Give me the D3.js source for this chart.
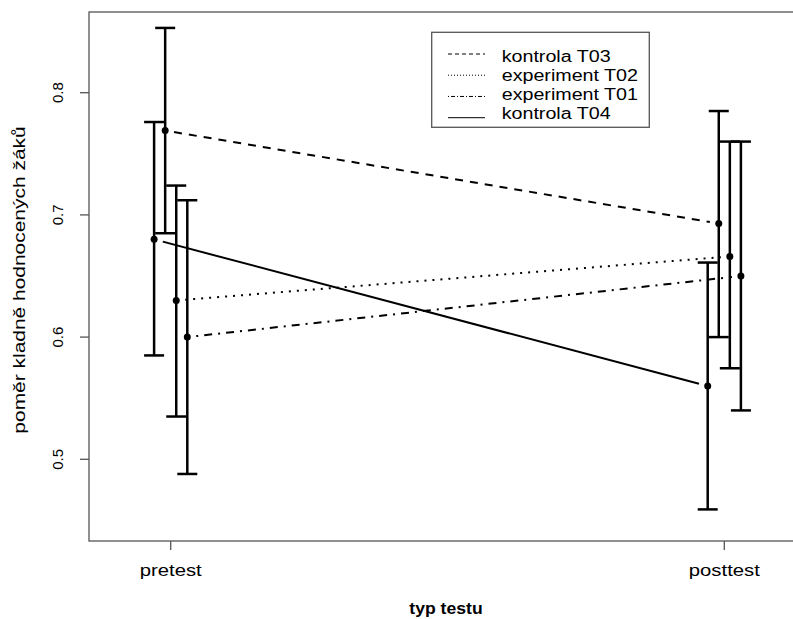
<!DOCTYPE html>
<html>
<head>
<meta charset="utf-8">
<script src="https://cdn.jsdelivr.net/npm/d3@7"></script>
<style>
  body { margin: 0; background: #fff; }
  svg { display: block; font-family: "Liberation Sans", Arial, sans-serif; }
</style>
</head>
<body>
<div id="chart"></div>
<script>
// ---- data ----
const groups = ["pretest", "posttest"];
// order of the bars from left to right inside each group
const series = ["kontrola T04", "kontrola T03", "experiment T02", "experiment T01"];
const legendOrder = ["kontrola T03", "experiment T02", "experiment T01", "kontrola T04"];

const meanPre  = [0.680, 0.769, 0.630, 0.600];
const meanPost = [0.560, 0.693, 0.666, 0.650];
const lowPre   = [0.585, 0.685, 0.535, 0.488];
const highPre  = [0.776, 0.853, 0.724, 0.712];
const lowPost  = [0.459, 0.600, 0.5745, 0.540];
const highPost = [0.661, 0.785, 0.760, 0.760];

const yTicks = [0.5, 0.6, 0.7, 0.8];
const dashes = {
    "kontrola T03": "8,7",
    "experiment T02": "2,6",
    "experiment T01": "2,6,8,6",
    "kontrola T04": null
};
const legendDashes = {
    "kontrola T03": "4,3",
    "experiment T02": "1,2",
    "experiment T01": "1,2,4,2",
    "kontrola T04": null
};

// ---- layout ----
const W = 793, H = 619;
const box = { left: 89, top: 12, bottom: 541, right: 800 };
const SX = 1.23; // text in the picture is stretched sideways

const svg = d3.select("#chart").append("svg")
    .attr("width", W).attr("height", H);

const x = d3.scalePoint().domain(groups).range([170.7, 724.3]);
const dx = d3.scalePoint().domain(series).range([-16.6, 16.6]);
const y = d3.scaleLinear().domain([0.5, 0.8]).range([459.3, 92.7]);

const rows = series.map((s, i) => ({
    name: s,
    pts: [
        { g: "pretest", m: meanPre[i], lo: lowPre[i], hi: highPre[i] },
        { g: "posttest", m: meanPost[i], lo: lowPost[i], hi: highPost[i] }
    ]
}));

// plot box
svg.append("rect")
    .attr("x", box.left).attr("y", box.top)
    .attr("width", box.right - box.left).attr("height", box.bottom - box.top)
    .attr("fill", "none").attr("stroke", "#555").attr("stroke-width", 1.3);

// y axis ticks + labels (vertical, like R)
const yg = svg.append("g");
yg.selectAll("line").data(yTicks).join("line")
    .attr("x1", box.left - 9).attr("x2", box.left)
    .attr("y1", d => y(d)).attr("y2", d => y(d))
    .attr("stroke", "#555").attr("stroke-width", 1.3);
yg.selectAll("text").data(yTicks).join("text")
    .attr("transform", d => `translate(63,${y(d)}) rotate(-90)`)
    .attr("text-anchor", "middle")
    .attr("font-size", 15)
    .text(d3.format(".1f"));

// x axis ticks + labels
const xg = svg.append("g");
xg.selectAll("line").data(groups).join("line")
    .attr("x1", d => x(d)).attr("x2", d => x(d))
    .attr("y1", box.bottom).attr("y2", box.bottom + 9)
    .attr("stroke", "#555").attr("stroke-width", 1.3);
xg.selectAll("text").data(groups).join("text")
    .attr("transform", d => `translate(${x(d)},576) scale(${SX},1)`)
    .attr("text-anchor", "middle")
    .attr("font-size", 16.5)
    .text(d => d);

// axis titles
svg.append("text")
    .attr("transform", `translate(446,614) scale(1.1,1)`)
    .attr("text-anchor", "middle")
    .attr("font-size", 16).attr("font-weight", "bold")
    .text("typ testu");
svg.append("text")
    .attr("transform", `translate(25,280) rotate(-90) scale(1.27,1)`)
    .attr("text-anchor", "middle")
    .attr("font-size", 16.5)
    .text("poměr kladně hodnocených žáků");

// connecting lines (with a gap around each point, R type "b")
const gap = 9;
svg.append("g").selectAll("line").data(rows).join("line")
    .each(function (d) {
        const x1 = x(d.pts[0].g) + dx(d.name), y1 = y(d.pts[0].m);
        const x2 = x(d.pts[1].g) + dx(d.name), y2 = y(d.pts[1].m);
        const len = Math.hypot(x2 - x1, y2 - y1);
        const ux = (x2 - x1) / len, uy = (y2 - y1) / len;
        d3.select(this)
            .attr("x1", x1 + ux * gap).attr("y1", y1 + uy * gap)
            .attr("x2", x2 - ux * gap).attr("y2", y2 - uy * gap);
    })
    .attr("stroke", "#000").attr("stroke-width", 2)
    .attr("stroke-dasharray", d => dashes[d.name]);

// error bars
const cap = 10;
const bars = rows.flatMap(r => r.pts.map(p => ({ ...p, name: r.name })));
const eb = svg.append("g").attr("stroke", "#000").attr("stroke-width", 2.5);
eb.selectAll("line.v").data(bars).join("line").attr("class", "v")
    .attr("x1", d => x(d.g) + dx(d.name)).attr("x2", d => x(d.g) + dx(d.name))
    .attr("y1", d => y(d.lo)).attr("y2", d => y(d.hi));
eb.selectAll("line.hi").data(bars).join("line").attr("class", "hi")
    .attr("x1", d => x(d.g) + dx(d.name) - cap).attr("x2", d => x(d.g) + dx(d.name) + cap)
    .attr("y1", d => y(d.hi)).attr("y2", d => y(d.hi));
eb.selectAll("line.lo").data(bars).join("line").attr("class", "lo")
    .attr("x1", d => x(d.g) + dx(d.name) - cap).attr("x2", d => x(d.g) + dx(d.name) + cap)
    .attr("y1", d => y(d.lo)).attr("y2", d => y(d.lo));

// points
svg.append("g").selectAll("circle").data(bars).join("circle")
    .attr("cx", d => x(d.g) + dx(d.name)).attr("cy", d => y(d.m))
    .attr("r", 3.5).attr("fill", "#000");

// legend
const lg = svg.append("g");
lg.append("rect")
    .attr("x", 431.7).attr("y", 32.3).attr("width", 217.6).attr("height", 95)
    .attr("fill", "#fff").attr("stroke", "#555").attr("stroke-width", 1.3);
const ly = d3.scalePoint().domain(legendOrder).range([54, 117.7]);
const lt = d3.scalePoint().domain(legendOrder).range([61.7, 119.3]);
lg.selectAll("line").data(legendOrder).join("line")
    .attr("x1", 448).attr("x2", 485)
    .attr("y1", d => ly(d)).attr("y2", d => ly(d))
    .attr("stroke", "#000").attr("stroke-width", 1)
    .attr("stroke-dasharray", d => legendDashes[d]);
lg.selectAll("text").data(legendOrder).join("text")
    .attr("transform", d => `translate(501.7,${lt(d)}) scale(${SX},1)`)
    .attr("font-size", 16)
    .text(d => d);
</script>
</body>
</html>
